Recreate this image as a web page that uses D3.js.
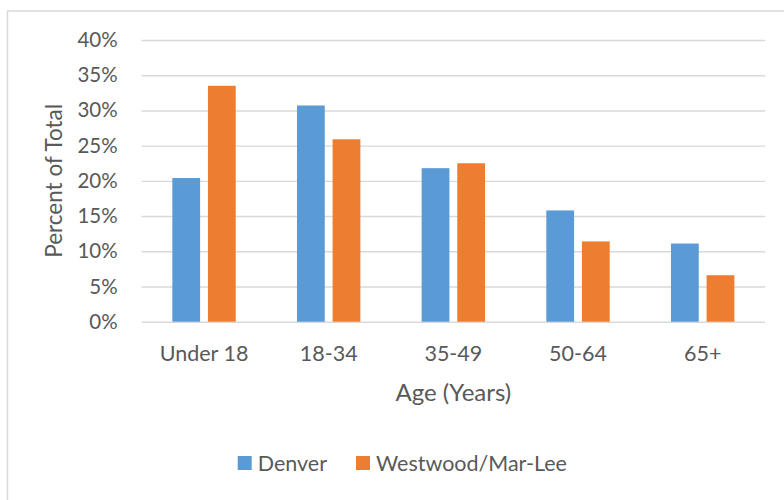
<!DOCTYPE html>
<html>
<head>
<meta charset="utf-8">
<script src="https://cdn.jsdelivr.net/npm/d3@7"></script>
<style>
  html, body { margin: 0; padding: 0; background: #fff; }
  svg { display: block; }
  text { font-family: Lato, "Open Sans", sans-serif; fill: #595959; }
</style>
</head>
<body>
<svg id="chart" width="784" height="500"></svg>
<script>
// Age distribution, share of total population
const categories = ["Under 18", "18-34", "35-49", "50-64", "65+"];
const seriesNames = ["Denver", "Westwood/Mar-Lee"];
const denver = [20.4, 30.7, 21.8, 15.8, 11.1];
const westwood = [33.5, 25.9, 22.5, 11.4, 6.6];
const yTicks = [0, 5, 10, 15, 20, 25, 30, 35, 40];
const colors = ["#5B9BD5", "#ED7D31"];

const svg = d3.select("#chart");
const W = 784, H = 500;
const plot = { left: 141.7, right: 765, top: 40, bottom: 321.7 };

// chart frame
svg.append("rect")
  .attr("x", 7.5).attr("y", 11)
  .attr("width", W + 10).attr("height", H + 10)
  .attr("fill", "#fff").attr("stroke", "#D9D9D9").attr("stroke-width", 1.5);

const x = d3.scaleBand().domain(categories).range([plot.left, plot.right]).paddingInner(0).paddingOuter(0);
const x1 = d3.scaleBand().domain(seriesNames).range([0, x.bandwidth()]).paddingInner(0.22).paddingOuter(0.86);
const y = d3.scaleLinear().domain([0, 40]).range([plot.bottom, plot.top]);

// gridlines + y labels
const yAxis = d3.axisLeft(y).tickValues(yTicks).tickSize(-(plot.right - plot.left)).tickPadding(24)
  .tickFormat(d => d + "%");
const gy = svg.append("g").attr("transform", `translate(${plot.left},0)`).call(yAxis);
gy.select(".domain").remove();
gy.selectAll(".tick line").attr("stroke", "#D9D9D9").attr("stroke-width", 1.4);
gy.selectAll(".tick text").attr("font-size", 20.5).attr("fill", "#595959")
  .style("font-family", "Lato, 'Open Sans', sans-serif");

// bars
const data = categories.map((c, i) => ({ cat: c, values: [denver[i], westwood[i]] }));
const groups = svg.append("g").selectAll("g").data(data).join("g")
  .attr("transform", d => `translate(${x(d.cat)},0)`);
groups.selectAll("rect").data(d => d.values.map((v, k) => ({ name: seriesNames[k], v, k })))
  .join("rect")
  .attr("x", d => x1(d.name))
  .attr("width", x1.bandwidth())
  .attr("y", d => y(d.v))
  .attr("height", d => y(0) - y(d.v))
  .attr("fill", d => colors[d.k]);

// x axis labels
const xAxis = d3.axisBottom(x).tickSize(0).tickPadding(24);
const gx = svg.append("g").attr("transform", `translate(0,${plot.bottom})`).call(xAxis);
gx.select(".domain").remove();
gx.selectAll(".tick text").attr("font-size", 21.5).attr("fill", "#595959")
  .style("font-family", "Lato, 'Open Sans', sans-serif");

// axis titles
svg.append("text")
  .attr("x", (plot.left + plot.right) / 2).attr("y", 401)
  .attr("text-anchor", "middle").attr("font-size", 24)
  .text("Age (Years)");
svg.append("text")
  .attr("transform", `translate(62,${(plot.top + plot.bottom) / 2}) rotate(-90)`)
  .attr("text-anchor", "middle").attr("font-size", 22.5)
  .text("Percent of Total");

// legend
const legendItems = [
  { name: seriesNames[0], color: colors[0], x: 237.7 },
  { name: seriesNames[1], color: colors[1], x: 356 }
];
const lg = svg.append("g").selectAll("g").data(legendItems).join("g")
  .attr("transform", d => `translate(${d.x},456)`);
lg.append("rect").attr("width", 14).attr("height", 14).attr("fill", d => d.color);
lg.append("text").attr("x", 20).attr("y", 14.5).attr("font-size", 21.5).text(d => d.name);
</script>
</body>
</html>
